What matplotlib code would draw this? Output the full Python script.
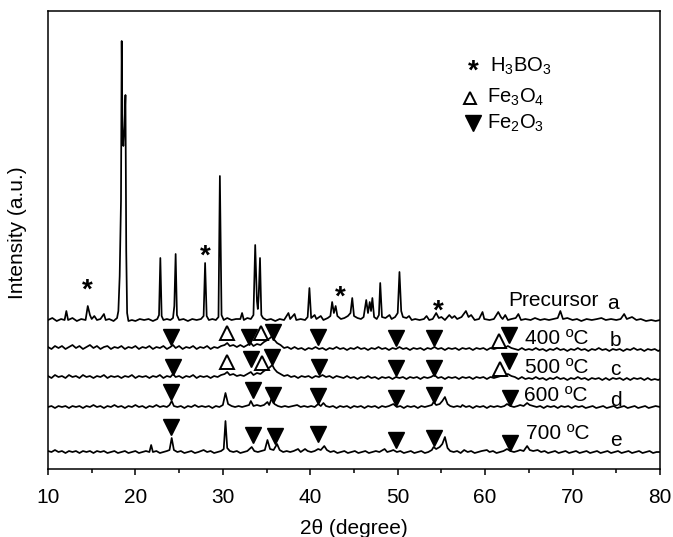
import matplotlib
matplotlib.use("Agg")
import matplotlib.pyplot as plt
from matplotlib.ticker import MultipleLocator

plt.rcParams['font.family'] = ['Liberation Sans', 'DejaVu Sans']
plt.rcParams['mathtext.fontset'] = 'custom'
plt.rcParams['mathtext.rm'] = 'Liberation Sans'
plt.rcParams['mathtext.it'] = 'Liberation Sans'

# vertical offset of each pattern (arbitrary units)
offsets = [148, 121, 92, 62, 17]
names = ['Precursor', '400 ºC', '500 ºC', '600 ºC', '700 ºC']
letters = ['a', 'b', 'c', 'd', 'e']

# (2theta, intensity), relative to each offset
prec = [(10.0, 1), (10.5, 3), (11.0, 0), (11.5, 2), (11.9, 1), (12.1, 10), (12.3, 1), (12.8, 3),
        (13.3, 0), (13.8, 2), (14.3, 1), (14.55, 15), (14.8, 6), (15.0, 2), (15.3, 5), (15.6, 1),
        (16.0, 2), (16.4, 7), (16.6, 1), (17.0, 2), (17.5, 0), (17.9, 3), (18.05, 10), (18.2, 45),
        (18.35, 120), (18.43, 280), (18.52, 190), (18.62, 175), (18.75, 195), (18.86, 226),
        (18.95, 70), (19.05, 8), (19.2, 0), (19.6, 1), (20.0, 0), (20.5, 2), (21.0, 1), (21.5, 2),
        (22.0, 0), (22.5, 2), (22.7, 6), (22.85, 63), (23.0, 5), (23.2, 1), (23.6, 2), (24.0, 1),
        (24.3, 3), (24.45, 15), (24.6, 67), (24.75, 6), (25.0, 1), (25.5, 2), (26.0, 0), (26.5, 2),
        (27.0, 1), (27.5, 2), (27.8, 5), (27.97, 58), (28.15, 5), (28.4, 1), (28.8, 2), (29.2, 1),
        (29.5, 4), (29.66, 145), (29.85, 6), (30.1, 1), (30.5, 3), (31.0, 1), (31.5, 2), (32.0, 2),
        (32.2, 8), (32.4, 1), (32.8, 3), (33.2, 2), (33.5, 6), (33.7, 76), (33.9, 20), (34.0, 12),
        (34.1, 25), (34.25, 63), (34.4, 6), (34.6, 3), (35.0, 1), (35.5, 2), (36.0, 0), (36.5, 2),
        (37.0, 1), (37.5, 8), (37.7, 2), (38.2, 7), (38.4, 1), (38.9, 2), (39.4, 1), (39.7, 4),
        (39.9, 33), (40.1, 3), (40.5, 6), (40.7, 2), (41.2, 5), (41.5, 1), (42.0, 3), (42.3, 5),
        (42.5, 19), (42.7, 8), (42.9, 15), (43.1, 5), (43.5, 2), (43.9, 3), (44.3, 5), (44.6, 8),
        (44.8, 23), (45.0, 5), (45.4, 3), (45.8, 2), (46.1, 4), (46.4, 21), (46.6, 8), (46.8, 19),
        (46.95, 10), (47.1, 23), (47.3, 4), (47.6, 2), (47.85, 6), (48.0, 38), (48.2, 4), (48.6, 3),
        (49.06, 6), (49.3, 2), (49.7, 4), (50.0, 8), (50.2, 49), (50.4, 10), (50.6, 4), (51.0, 3),
        (51.3, 5), (51.6, 1), (52.0, 2), (52.5, 1), (53.0, 2), (53.3, 5), (53.6, 1), (54.0, 2),
        (54.4, 8), (54.7, 3), (55.0, 4), (55.4, 1), (55.9, 6), (56.2, 3), (56.5, 5), (56.8, 2),
        (57.3, 4), (57.8, 10), (58.1, 4), (58.4, 6), (58.8, 1), (59.3, 2), (59.7, 9), (59.9, 2),
        (60.5, 1), (61.0, 2), (61.5, 9), (61.8, 4), (62.0, 2), (62.3, 6), (62.6, 1), (63.0, 2),
        (63.5, 3), (63.8, 7), (64.1, 1), (64.6, 2), (65.2, 1), (65.7, 3), (66.3, 1), (66.8, 2),
        (67.3, 1), (67.8, 2), (68.3, 3), (68.6, 10), (68.9, 2), (69.4, 3), (70.0, 1), (70.5, 2),
        (71.0, 0), (71.6, 2), (72.2, 1), (72.8, 2), (73.3, 3), (73.8, 1), (74.4, 2), (75.0, 1),
        (75.5, 2), (75.9, 7), (76.2, 2), (76.8, 4), (77.3, 1), (77.8, 2), (78.4, 0), (79.0, 1),
        (79.5, 0), (80.0, 1)]

t400 = [(10.0, 1), (10.4, -1), (10.8, 2), (11.2, 0), (11.6, 2), (12.0, -1), (12.4, 1), (12.8, 3),
        (13.2, 0), (13.6, 2), (14.0, -1), (14.4, 1), (14.8, 3), (15.2, 0), (15.6, 2), (16.0, -1),
        (16.4, 1), (16.8, 2), (17.2, -1), (17.6, 1), (18.0, 0), (18.4, 2), (18.8, -1), (19.2, 1),
        (19.6, 0), (20.0, 2), (20.4, -1), (20.8, 1), (21.2, 0), (21.6, 2), (22.0, -1), (22.4, 1),
        (22.8, 0), (23.2, 2), (23.6, -1), (24.0, 1), (24.3, 3), (24.6, 0), (25.0, 2), (25.4, -1),
        (25.8, 1), (26.2, 0), (26.6, 2), (27.0, -1), (27.4, 1), (27.8, 0), (28.2, 2), (28.6, -1),
        (29.0, 1), (29.4, 0), (29.8, 2), (30.2, 3), (30.5, 5), (30.8, 2), (31.2, 3), (31.6, 1),
        (32.0, 3), (32.4, 1), (32.8, 3), (33.2, 5), (33.5, 2), (33.9, 4), (34.3, 3), (34.7, 6),
        (35.1, 8), (35.4, 10), (35.65, 12), (35.9, 8), (36.2, 5), (36.6, 3), (37.0, 0), (37.4, 1),
        (37.8, -1), (38.2, 1), (38.6, -1), (39.0, 0), (39.4, -2), (39.8, 0), (40.2, -1), (40.6, 1),
        (41.0, -1), (41.4, 0), (41.8, -2), (42.2, 0), (42.6, -1), (43.0, 1), (43.4, -1), (43.8, 0),
        (44.2, -2), (44.6, 0), (45.0, -1), (45.4, 1), (45.8, -1), (46.2, 0), (46.6, -2), (47.0, 0),
        (47.4, -1), (47.8, 1), (48.2, -1), (48.6, 0), (49.0, -2), (49.4, 0), (49.8, -1), (50.2, 1),
        (50.6, -1), (51.0, 0), (51.4, -2), (51.8, 0), (52.2, -1), (52.6, 0), (53.0, -2), (53.4, 0),
        (53.8, -1), (54.2, 1), (54.6, -1), (55.0, 0), (55.4, -2), (55.8, 0), (56.2, -1), (56.6, 0),
        (57.0, -2), (57.4, 0), (57.8, -1), (58.2, 0), (58.6, -2), (59.0, 0), (59.4, -1), (59.8, 0),
        (60.2, -2), (60.6, 0), (61.0, -1), (61.4, 0), (61.8, 1), (62.2, 0), (62.6, 2), (63.0, 0),
        (63.4, -1), (63.8, -2), (64.2, 0), (64.6, -2), (65.0, -1), (65.4, -2), (65.8, 0), (66.2, -2),
        (66.6, -1), (67.0, -3), (67.4, -1), (67.8, -2), (68.2, 0), (68.6, -2), (69.0, -1), (69.4, -3),
        (69.8, -1), (70.2, -2), (70.6, 0), (71.0, -2), (71.4, -1), (71.8, -3), (72.2, -1), (72.6, -2),
        (73.0, 0), (73.4, -2), (73.8, -1), (74.2, -3), (74.6, -1), (75.0, -2), (75.4, -1), (75.8, -3),
        (76.2, -1), (76.6, -2), (77.0, 0), (77.4, -2), (77.8, -1), (78.2, -3), (78.6, -1), (79.0, -2),
        (79.4, -1), (79.8, -3), (80.0, -2)]

t500 = [(10.0, 1), (10.4, -1), (10.8, 2), (11.2, 0), (11.6, 1), (12.0, -1), (12.4, 2), (12.8, 0),
        (13.2, 1), (13.6, -1), (14.0, 2), (14.4, 0), (14.8, 1), (15.2, -1), (15.6, 1), (16.0, 0),
        (16.4, 2), (16.8, -1), (17.2, 1), (17.6, 0), (18.0, 1), (18.4, -1), (18.8, 1), (19.2, 0),
        (19.6, 2), (20.0, -1), (20.4, 1), (20.8, 0), (21.2, 1), (21.6, -1), (22.0, 1), (22.4, 0),
        (22.8, 2), (23.2, -1), (23.6, 1), (24.0, 0), (24.3, 3), (24.6, 0), (25.0, 1), (25.4, -1),
        (25.8, 1), (26.2, 0), (26.6, 2), (27.0, -1), (27.4, 1), (27.8, 0), (28.2, 1), (28.6, -1),
        (29.0, 1), (29.4, 0), (29.8, 2), (30.2, 3), (30.5, 5), (30.8, 2), (31.2, 3), (31.6, 1),
        (32.0, 2), (32.4, 1), (32.8, 3), (33.2, 5), (33.5, 2), (33.9, 4), (34.3, 3), (34.7, 6),
        (35.1, 8), (35.4, 10), (35.65, 12), (35.9, 8), (36.2, 5), (36.6, 3), (37.0, 1), (37.4, 2),
        (37.8, 0), (38.2, 1), (38.6, -1), (39.0, 1), (39.4, 0), (39.8, 1), (40.2, -1), (40.6, 1),
        (41.0, 0), (41.4, 2), (41.8, 0), (42.2, 1), (42.6, -1), (43.0, 1), (43.4, 0), (43.8, -1),
        (44.2, 1), (44.6, -1), (45.0, 0), (45.4, -2), (45.8, 0), (46.2, -1), (46.6, 1), (47.0, -1),
        (47.4, 0), (47.8, -2), (48.2, 0), (48.6, -1), (49.0, 0), (49.4, -2), (49.8, 0), (50.2, -1),
        (50.6, 0), (51.0, -2), (51.4, 0), (51.8, -1), (52.2, 0), (52.6, -2), (53.0, 0), (53.4, -1),
        (53.8, 0), (54.2, 2), (54.6, -1), (55.0, 0), (55.4, -2), (55.8, 0), (56.2, -1), (56.6, 0),
        (57.0, -2), (57.4, 0), (57.8, -1), (58.2, 0), (58.6, -2), (59.0, 0), (59.4, -1), (59.8, 0),
        (60.2, -2), (60.6, 0), (61.0, -1), (61.4, 0), (61.8, 1), (62.2, 2), (62.6, 3), (63.0, 1),
        (63.4, 0), (63.8, -2), (64.2, 0), (64.6, -2), (65.0, -1), (65.4, -2), (65.8, 0), (66.2, -2),
        (66.6, -1), (67.0, -3), (67.4, -1), (67.8, -2), (68.2, 0), (68.6, -2), (69.0, -1), (69.4, -3),
        (69.8, -1), (70.2, -2), (70.6, 0), (71.0, -2), (71.4, -1), (71.8, -3), (72.2, -1), (72.6, -2),
        (73.0, -1), (73.4, -3), (73.8, -1), (74.2, -3), (74.6, -1), (75.0, -2), (75.4, -1), (75.8, -3),
        (76.2, -1), (76.6, -3), (77.0, -1), (77.4, -2), (77.8, -1), (78.2, -3), (78.6, -1), (79.0, -3),
        (79.4, -2), (79.8, -3), (80.0, -2)]

t600 = [(10.0, 0), (10.4, 1), (10.8, -1), (11.2, 1), (11.6, 0), (12.0, 1), (12.4, -1), (12.8, 1),
        (13.2, 0), (13.6, 1), (14.0, -1), (14.4, 1), (14.8, 0), (15.2, 2), (15.6, 0), (16.0, 1),
        (16.4, -1), (16.8, 1), (17.2, 0), (17.6, 2), (18.0, 0), (18.4, 1), (18.8, -1), (19.2, 1),
        (19.6, 0), (20.0, 2), (20.4, 0), (20.8, 1), (21.2, -1), (21.6, 1), (22.0, 0), (22.4, 2),
        (22.8, 0), (23.2, 1), (23.6, 0), (23.9, 2), (24.15, 6), (24.4, 1), (24.8, 0), (25.2, 1),
        (25.6, -1), (26.0, 1), (26.4, 0), (26.8, 2), (27.2, 0), (27.6, 1), (28.0, 0), (28.4, 1),
        (28.8, -1), (29.2, 1), (29.6, 0), (30.0, 2), (30.3, 14), (30.6, 3), (31.0, 1), (31.4, 0),
        (31.8, 1), (32.2, 0), (32.6, 1), (33.0, 2), (33.2, 6), (33.5, 1), (33.9, 2), (34.3, 1),
        (34.7, 2), (35.1, 5), (35.3, 2), (35.6, 9), (35.9, 3), (36.3, 1), (36.7, 0), (37.1, 1),
        (37.5, 0), (38.0, 1), (38.5, 2), (38.9, 0), (39.3, 1), (39.7, 0), (40.1, 1), (40.5, 0),
        (40.9, 3), (41.2, 1), (41.5, 4), (41.8, 1), (42.2, 0), (42.6, 1), (43.0, -1), (43.4, 1),
        (43.8, 0), (44.2, 1), (44.6, -1), (45.0, 1), (45.4, 0), (45.8, 1), (46.2, -1), (46.6, 1),
        (47.0, 0), (47.4, 1), (47.8, -1), (48.2, 1), (48.6, 0), (49.0, 1), (49.5, 3), (49.9, 0),
        (50.3, 1), (50.7, -1), (51.1, 1), (51.5, 0), (51.9, 1), (52.3, -1), (52.7, 1), (53.1, 0),
        (53.5, 1), (53.9, 2), (54.1, 5), (54.4, 2), (54.8, 3), (55.1, 6), (55.4, 10), (55.7, 3),
        (56.0, 1), (56.4, 0), (56.8, 1), (57.2, 0), (57.4, 2), (57.8, 0), (58.2, 1), (58.6, -1),
        (59.0, 1), (59.4, 0), (59.8, 1), (60.2, -1), (60.6, 1), (61.0, 0), (61.4, 1), (61.8, 0),
        (62.2, 1), (62.5, 3), (62.9, 1), (63.3, 0), (63.7, 1), (64.0, 2), (64.4, 1), (64.8, 4),
        (65.1, 2), (65.5, 1), (65.9, 0), (66.3, 1), (66.7, -1), (67.1, 1), (67.5, 0), (67.9, 1),
        (68.3, -1), (68.7, 1), (69.1, 0), (69.5, 1), (69.9, -1), (70.3, 1), (70.7, 0), (71.1, 1),
        (71.5, -1), (71.9, 0), (72.3, 1), (72.7, -1), (73.1, 0), (73.5, 1), (73.9, -1), (74.3, 0),
        (74.7, 1), (75.1, -1), (75.5, 0), (75.9, 1), (76.3, -1), (76.7, 0), (77.1, 1), (77.5, -1),
        (77.9, 0), (78.3, 1), (78.7, -1), (79.1, 0), (79.5, 1), (80.0, 0)]

t700 = [(10.0, 1), (10.4, 0), (10.8, 2), (11.2, 0), (11.6, 1), (12.0, -1), (12.4, 1), (12.8, 0),
        (13.2, 1), (13.6, -1), (14.0, 1), (14.4, 0), (14.8, 1), (15.2, -1), (15.6, 1), (16.0, 0),
        (16.4, 1), (16.8, -1), (17.2, 0), (17.6, 1), (18.0, -1), (18.4, 0), (18.8, 1), (19.2, -1),
        (19.6, 0), (20.0, 1), (20.4, -1), (20.8, 0), (21.2, 1), (21.6, 0), (21.8, 7), (22.0, 0),
        (22.4, 1), (22.8, -1), (23.2, 0), (23.6, 1), (23.9, 2), (24.15, 14), (24.4, 2), (24.8, 0),
        (25.2, 1), (25.6, -1), (26.0, 0), (26.4, 1), (26.8, -1), (27.2, 0), (27.8, 2), (28.2, 0),
        (28.6, 1), (29.0, -1), (29.4, 0), (29.8, 1), (30.1, 3), (30.3, 31), (30.5, 4), (30.8, 1),
        (31.2, 0), (31.6, 1), (32.0, -1), (32.4, 0), (32.8, 1), (33.3, 5), (33.6, 1), (34.0, 0),
        (34.4, 1), (34.8, 2), (35.1, 12), (35.4, 3), (35.8, 2), (36.2, 8), (36.5, 2), (36.9, 0),
        (37.3, 1), (37.7, 0), (38.1, 1), (38.6, 3), (38.9, 0), (39.4, 3), (39.7, 1), (40.1, 0),
        (40.5, 1), (40.9, 3), (41.2, 2), (41.6, 6), (41.9, 2), (42.3, 0), (42.7, 1), (43.1, -1),
        (43.5, 0), (43.9, 1), (44.3, -1), (44.7, 0), (45.1, 1), (45.5, -1), (45.9, 0), (46.3, 1),
        (46.7, -1), (47.1, 0), (47.5, 1), (47.9, 0), (48.5, 3), (48.8, 0), (49.2, 1), (49.5, 2),
        (49.9, 0), (50.3, 1), (50.7, -1), (51.1, 0), (51.5, 1), (51.9, -1), (52.3, 0), (52.7, 1),
        (53.1, -1), (53.5, 0), (53.9, 2), (54.1, 5), (54.4, 3), (54.8, 5), (55.1, 8), (55.4, 15),
        (55.7, 4), (56.0, 1), (56.4, 0), (56.8, 1), (57.2, -1), (57.6, 2), (58.0, 0), (58.4, 1),
        (58.8, -1), (59.2, 0), (59.6, 1), (60.2, 2), (60.5, 0), (60.9, 1), (61.3, -1), (61.7, 0),
        (62.1, 1), (62.5, 3), (62.9, 1), (63.3, 0), (63.7, 1), (64.0, 2), (64.4, 1), (64.8, 6),
        (65.1, 2), (65.5, 1), (66.0, 2), (66.4, 0), (66.8, 1), (67.2, -1), (67.6, 0), (68.0, 1),
        (68.4, -1), (68.8, 0), (69.2, 1), (69.6, -1), (70.0, 0), (70.4, 1), (70.8, -1), (71.2, 0),
        (71.6, 1), (72.0, -1), (72.4, 0), (72.8, 1), (73.2, -1), (73.6, 0), (74.0, 1), (74.4, -1),
        (74.8, 0), (75.2, 1), (75.6, -1), (76.0, 0), (76.4, 1), (76.8, -1), (77.2, 0), (77.6, 1),
        (78.0, -1), (78.4, 0), (78.8, 1), (79.2, -1), (79.6, 0), (80.0, 0)]

traces = [prec, t400, t500, t600, t700]

# phase markers: (2theta, height) in plot units
h3bo3_x = [14.5, 28.0, 43.4, 54.6]
h3bo3_y = [178, 212, 171, 157]
fe3o4_x = [30.45, 34.4, 61.6, 30.45, 34.5, 61.7]
fe3o4_y = [136, 136, 128, 107, 106, 100]
fe2o3_x = [24.1, 33.0, 35.7, 40.9, 49.8, 54.1, 62.75,
           24.25, 33.2, 35.6, 41.05, 49.8, 54.2, 62.75,
           24.1, 33.4, 35.7, 40.9, 49.8, 54.1, 62.8,
           24.1, 33.4, 36.0, 40.9, 49.8, 54.2, 62.8]
fe2o3_y = [132, 132, 137, 132, 131, 131, 134,
           102, 110, 112, 102, 101, 101, 108,
           77, 79, 74, 73, 71, 74, 71,
           42, 34, 33, 35, 29, 31, 26]

# label positions (2theta, height)
name_x = [62.6, 64.55, 64.55, 64.4, 64.7]
name_y = [169, 131, 102, 74, 36]
letter_x = [73.9, 74.3, 74.3, 74.3, 74.3]
letter_y = [166, 129, 100, 69, 29]

fig = plt.figure(figsize=(6.73, 5.37), dpi=100)
ax = fig.add_axes([0.0713, 0.1266, 0.9094, 0.8529])

for off, tr in zip(offsets, traces):
    xs = [p[0] for p in tr]
    ys = [p[1] + off for p in tr]
    ax.plot(xs, ys, color='black', lw=1.25)

for x, y in zip(h3bo3_x, h3bo3_y):
    ax.text(x, y, '*', fontsize=20, fontweight='bold', ha='center', va='center')
ax.plot(fe3o4_x, fe3o4_y, ls='none', marker='^', ms=10, mfc='white', mec='black', mew=1.4)
ax.plot(fe2o3_x, fe2o3_y, ls='none', marker='v', ms=11, color='black')

for i in range(5):
    ax.text(name_x[i], name_y[i], names[i], fontsize=15, ha='left', va='center')
    ax.text(letter_x[i], letter_y[i], letters[i], fontsize=15, ha='left', va='center')

# legend written by hand like in the original figure
ax.text(58.6, 397, '*', fontsize=20, fontweight='bold', ha='center', va='center')
ax.text(60.5, 403, 'H$_3$BO$_3$', fontsize=14.5, ha='left', va='center')
ax.plot([58.3], [371], ls='none', marker='^', ms=8, mfc='white', mec='black', mew=1.4)
ax.text(60.2, 372, 'Fe$_3$O$_4$', fontsize=14.5, ha='left', va='center')
ax.plot([58.6], [346], ls='none', marker='v', ms=11, color='black')
ax.text(60.2, 346, 'Fe$_2$O$_3$', fontsize=14.5, ha='left', va='center')

ax.set_xlim(10, 80)
ax.set_ylim(0, 458)
ax.xaxis.set_major_locator(MultipleLocator(10))
ax.xaxis.set_minor_locator(MultipleLocator(5))
ax.tick_params(axis='x', which='major', direction='out', length=4.5, width=1.1, labelsize=15, pad=9)
ax.tick_params(axis='x', which='minor', direction='out', length=3, width=1.1)
ax.set_yticks([])
for s in ax.spines.values():
    s.set_linewidth(1.1)
ax.set_xlabel('2θ (degree)', fontsize=15, labelpad=9)
ax.set_ylabel('Intensity (a.u.)', fontsize=15)
ax.yaxis.set_label_coords(-0.034, 0.517)

fig.savefig('out.png', dpi=100)
